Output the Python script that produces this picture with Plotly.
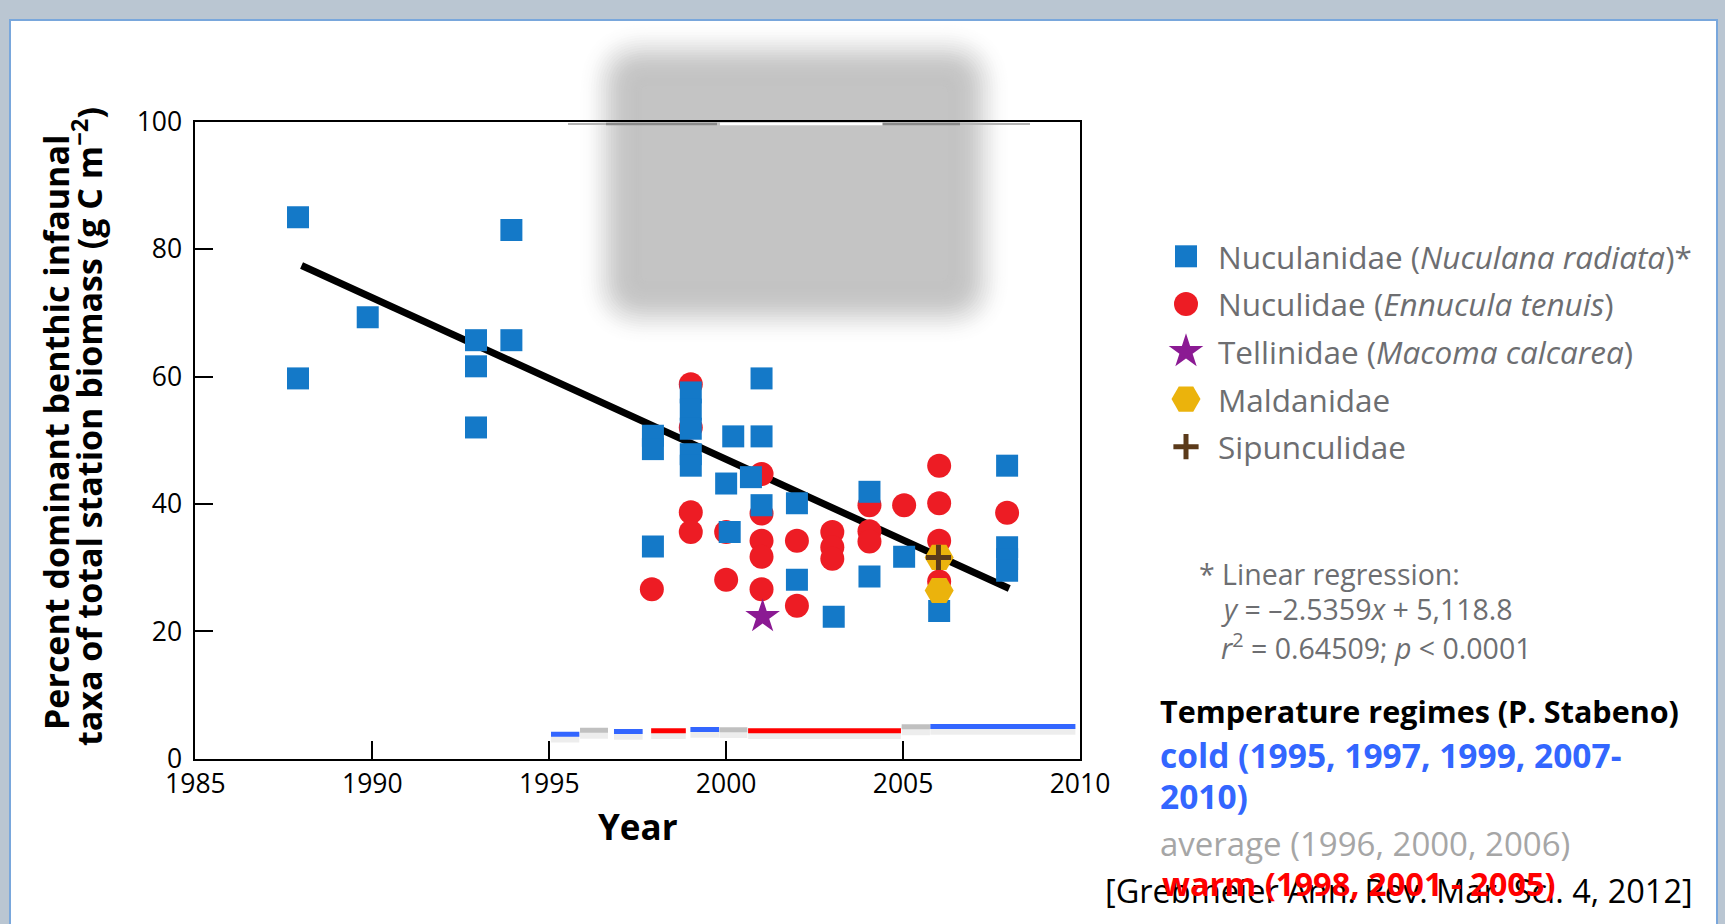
import math
import plotly.graph_objects as go

W, H = 1725, 924

# ---------------- data ----------------
nuculanidae_year = [1987.9, 1987.9, 1989.87, 1992.93, 1992.93, 1992.93, 1993.93, 1993.93,
                    1997.93, 1997.93, 1997.93, 1999.0, 1999.0, 1999.0, 1999.0, 1999.0,
                    2000.0, 2000.1, 2000.2, 2000.7, 2001.0, 2001.0, 2001.0, 2002.0, 2002.0,
                    2003.04, 2004.05, 2004.05, 2005.03, 2006.02, 2007.94, 2007.94, 2007.94, 2007.94]
nuculanidae_pct = [85.0, 59.7, 69.3, 65.7, 61.6, 52.0, 83.0, 65.7,
                   50.7, 48.6, 33.3, 57.5, 54.8, 51.8, 47.8, 46.0,
                   43.2, 35.6, 50.6, 44.2, 59.7, 50.6, 39.8, 40.1, 28.1,
                   22.3, 41.9, 28.6, 31.7, 23.2, 46.0, 33.2, 31.3, 29.5]

nuculidae_year = [1997.9, 1999.0, 1999.0, 1999.0, 1999.0, 2000.0, 2000.0,
                  2001.0, 2001.0, 2001.0, 2001.0, 2001.0, 2002.0, 2002.0,
                  2003.0, 2003.0, 2003.0, 2004.05, 2004.05, 2004.05, 2005.03,
                  2006.02, 2006.02, 2006.02, 2006.02, 2007.94]
nuculidae_pct = [26.6, 58.8, 52.0, 38.7, 35.6, 35.6, 28.1,
                 44.7, 38.5, 34.2, 31.7, 26.6, 34.2, 24.0,
                 35.6, 33.2, 31.4, 39.8, 35.7, 34.1, 39.8,
                 46.0, 40.1, 34.2, 27.8, 38.6]

tellinidae_year = [2001.03]
tellinidae_pct = [22.3]
maldanidae_year = [2006.02, 2006.02]
maldanidae_pct = [31.6, 26.4]
sipunculidae_year = [2006.0]
sipunculidae_pct = [31.6]

reg_slope = -2.5359
reg_intercept = 5118.8
reg_years = [1988, 2008]

regime_start = [1995.05, 1995.87, 1996.83, 1997.88, 1998.99, 1999.81, 2000.62, 2004.96, 2005.77]
regime_end = [1995.85, 1996.66, 1997.64, 1998.86, 1999.80, 2000.60, 2004.94, 2005.76, 2009.87]
regime_level = [3.85, 4.45, 4.27, 4.4, 4.6, 4.55, 4.4, 5.0, 5.05]
regime_type = ["cold", "average", "cold", "warm", "cold", "average", "warm", "average", "cold"]
regime_colors = {"cold": "#3366ff", "average": "#c0c0c0", "warm": "#ff0000"}

legend_names = ["Nuculanidae (<i>Nuculana radiata</i>)*",
                "Nuculidae (<i>Ennucula tenuis</i>)",
                "Tellinidae (<i>Macoma calcarea</i>)",
                "Maldanidae",
                "Sipunculidae"]

x_ticks = [1985, 1990, 1995, 2000, 2005, 2010]
y_ticks = [0, 20, 40, 60, 80, 100]

# marker styles per taxon
styles = [
    dict(symbol="square", size=22, color="#1479c8", line=dict(width=0)),
    dict(symbol="circle", size=24, color="#ed1c24", line=dict(width=0)),
    dict(symbol="star", size=26, color="#8b1a93", line=dict(width=0)),
    dict(symbol="hexagon2", size=29, color="#ebb30c", line=dict(width=0)),
    dict(symbol="cross-thin", size=18, color="#5b3a1a", line=dict(color="#5b3a1a", width=5)),
]


def PX(x):
    return x / W


def PY(y):
    return 1 - y / H


fig = go.Figure()

# temperature regime bars (soft shadow then bar)
for shadow in (True, False):
    for kind in ["cold", "average", "warm"]:
        xs, ys = [], []
        for s, e, lv, t in zip(regime_start, regime_end, regime_level, regime_type):
            if t != kind:
                continue
            off = 0.6 if shadow else 0.0
            xs += [s, e, None]
            ys += [lv - off, lv - off, None]
        fig.add_trace(go.Scatter(
            x=xs, y=ys, mode="lines", showlegend=False, hoverinfo="skip",
            line=dict(color="rgba(0,0,0,0.07)" if shadow else regime_colors[kind],
                      width=9 if shadow else 5)))

# regression line
fig.add_trace(go.Scatter(
    x=reg_years, y=[reg_slope * v + reg_intercept for v in reg_years],
    mode="lines", line=dict(color="black", width=7), showlegend=False, hoverinfo="skip"))

series = [(nuculanidae_year, nuculanidae_pct), (nuculidae_year, nuculidae_pct),
          (tellinidae_year, tellinidae_pct), (maldanidae_year, maldanidae_pct),
          (sipunculidae_year, sipunculidae_pct)]
draw_order = [1, 0, 2, 3, 4]   # circles first, squares over them
for i in draw_order:
    xs, ys = series[i]
    fig.add_trace(go.Scatter(x=xs, y=ys, mode="markers", name=legend_names[i],
                             showlegend=False, marker=styles[i]))

# key (legend) symbols on a hidden helper axis in pixel units
key_x = 1186
key_y0, key_dy = 256.3, 47.6
for i, st in enumerate(styles):
    fig.add_trace(go.Scatter(x=[key_x], y=[key_y0 + i * key_dy], xaxis="x2", yaxis="y2",
                             mode="markers", marker=st, showlegend=False, hoverinfo="skip"))

# ---------------- shapes ----------------
shapes = []
shapes.append(dict(type="rect", xref="paper", yref="paper", x0=PX(10), x1=PX(1717),
                   y0=PY(960), y1=PY(20), fillcolor="white",
                   line=dict(color="#79a7dc", width=2), layer="below"))


def rr_path(x0, y0, x1, y1, r):
    def p(x, y):
        return "%.5f,%.5f" % (PX(x), PY(y))
    return ("M" + p(x0 + r, y0) + " L" + p(x1 - r, y0) + " Q" + p(x1, y0) + " " + p(x1, y0 + r) +
            " L" + p(x1, y1 - r) + " Q" + p(x1, y1) + " " + p(x1 - r, y1) +
            " L" + p(x0 + r, y1) + " Q" + p(x0, y1) + " " + p(x0, y1 - r) +
            " L" + p(x0, y0 + r) + " Q" + p(x0, y0) + " " + p(x0 + r, y0) + " Z")


# blurred grey box: half-intensity edge box, gaussian-like fall-off
hx0, hy0, hx1, hy1 = 606, 50, 983, 317
half, sig, nb = 38.0, 13.0, 30
step = 2 * half / nb
ix0, iy0, ix1, iy1 = hx0 + half, hy0 + half, hx1 - half, hy1 - half
T = []
for k in range(nb):
    d = (k + 0.5) * step - half
    T.append(0.5 * math.erfc(d / (sig * math.sqrt(2))))
alphas = [0.0] * nb
alphas[nb - 1] = T[nb - 1]
for k in range(nb - 2, -1, -1):
    alphas[k] = 1 - (1 - T[k]) / (1 - T[k + 1])
for k in range(nb - 1, -1, -1):
    e = (k + 1) * step
    shapes.append(dict(type="path", xref="paper", yref="paper",
                       path=rr_path(ix0 - e, iy0 - e, ix1 + e, iy1 + e, e + 4),
                       fillcolor="#c4c4c4", opacity=alphas[k], line=dict(width=0), layer="below"))
shapes.append(dict(type="path", xref="paper", yref="paper",
                   path=rr_path(ix0, iy0, ix1, iy1, 4),
                   fillcolor="#c4c4c4", line=dict(width=0), layer="below"))

# residue strip under the top axis
for (xa, xb, col, wd) in [(568, 606, "#b5b5b5", 2), (606, 717, "#8a8a8a", 2.5),
                          (720, 882, "white", 2.5), (883, 960, "#8a8a8a", 2.5),
                          (960, 1030, "#b5b5b5", 2)]:
    shapes.append(dict(type="line", xref="paper", yref="paper", x0=PX(xa), x1=PX(xb),
                       y0=PY(124), y1=PY(124), line=dict(color=col, width=wd), layer="below"))

# ---------------- annotations ----------------
ann = []
TF = "Open Sans"
gray = "#6d6e71"


def A(text, x, y, size, color="black", xanchor="left", angle=0, family=TF):
    ann.append(dict(text=text, x=PX(x), y=PY(y), xref="paper", yref="paper",
                    xanchor=xanchor, yanchor="middle", showarrow=False, textangle=angle,
                    font=dict(family=family, size=size, color=color)))


A("<b>Percent dominant benthic infaunal</b>", 56, 433, 34, xanchor="center", angle=-90)
A("<b>taxa of total station biomass (g C m<sup>−2</sup>)</b>", 87, 427, 34, xanchor="center", angle=-90)
A("<b>Year</b>", 637.5, 826, 35, xanchor="center")

for i, nm in enumerate(legend_names):
    A(nm, 1216, key_y0 + i * key_dy, 31.5, gray)

A("* Linear regression:", 1197, 574, 28.5, gray)
A("<i>y</i> = –2.5359<i>x</i> + 5,118.8", 1219, 609, 28.5, gray)
A("<i>r</i><sup>2</sup> = 0.64509; <i>p</i> &lt; 0.0001", 1219, 646, 28.5, gray)

A("<b>Temperature regimes (P. Stabeno)</b>", 1158, 711, 30.5, "black")
A("<b>cold (1995, 1997, 1999, 2007-</b>", 1158, 755, 33.5, "#3366ff")
A("<b>2010)</b>", 1158, 796, 33.5, "#3366ff")
A("average (1996, 2000, 2006)", 1158, 843, 33, "#a6a6a6")
A("[Grebmeier Ann. Rev. Mar. Sci. 4, 2012]", 1103, 890, 32.5, "black")
A("<b>warm (1998, 2001 - 2005)</b>", 1160, 883, 32.6, "#ff0000")

axis_common = dict(showline=True, linewidth=2, linecolor="black", mirror=True,
                   ticks="inside", ticklen=18, tickwidth=2, tickcolor="black",
                   showgrid=False, zeroline=False,
                   tickfont=dict(family=TF, size=26.5, color="black"))

fig.update_layout(
    width=W, height=H, margin=dict(l=0, r=0, t=0, b=0, pad=0, autoexpand=False),
    paper_bgcolor="#bac6d2", plot_bgcolor="white",
    xaxis=dict(domain=[PX(195.4), PX(1080)], range=[1985, 2010], tickvals=x_ticks,
               ticklabelstandoff=0, automargin=False, **axis_common),
    yaxis=dict(domain=[PY(758.7), PY(121.7)], range=[0, 100], tickvals=y_ticks,
               ticklabelstandoff=6, automargin=False, **axis_common),
    xaxis2=dict(domain=[PX(1150), PX(1230)], range=[1150, 1230], anchor="y2",
                visible=False, fixedrange=True),
    yaxis2=dict(domain=[PY(480), PY(225)], range=[480, 225], anchor="x2",
                visible=False, fixedrange=True),
    showlegend=False,
    shapes=shapes, annotations=ann,
)

fig.write_html("out.html")
